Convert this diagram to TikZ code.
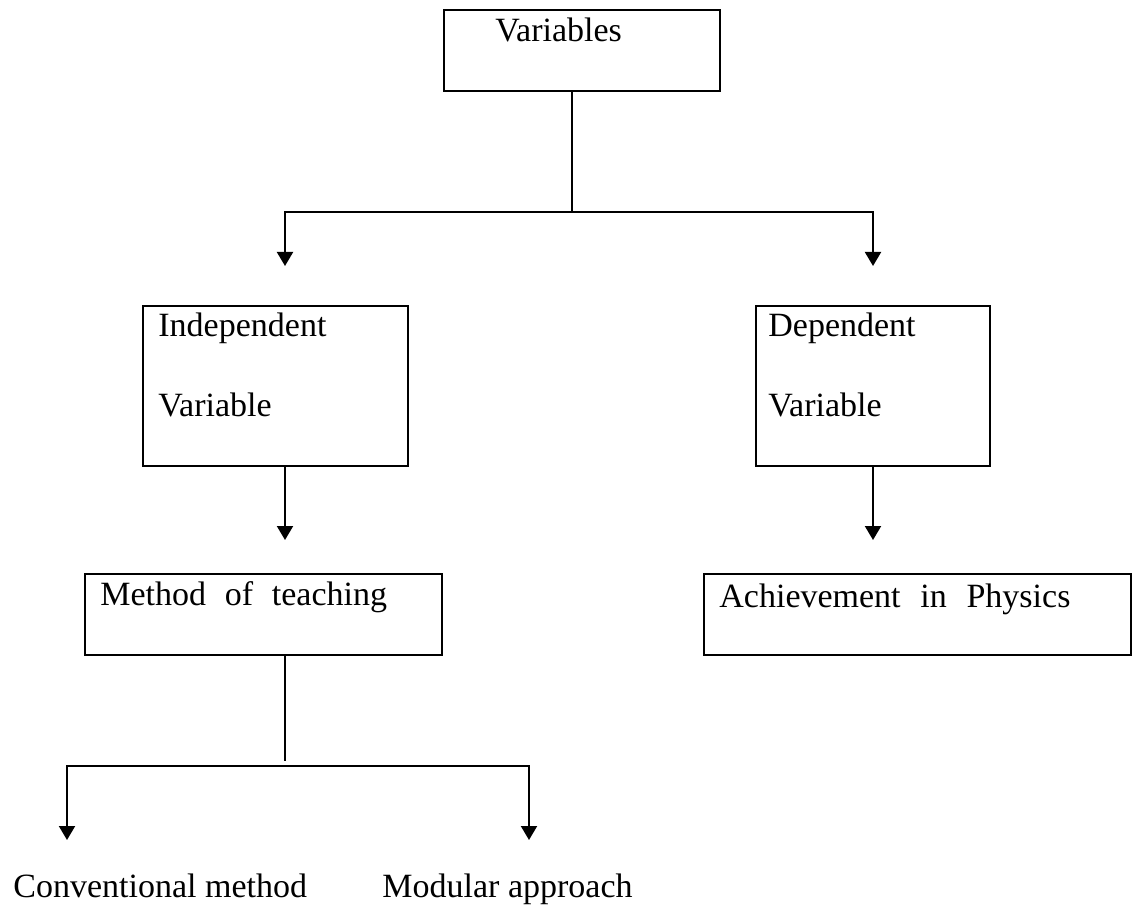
\documentclass[tikz,border=0pt]{standalone}
\usepackage{fontspec}
\setmainfont{Liberation Serif}
\usetikzlibrary{arrows.meta}
\begin{document}
\begin{tikzpicture}[x=0.5pt,y=-0.5pt,
  box/.style={draw=black, line width=1.35pt, inner sep=0pt, rectangle},
  lbl/.style={anchor=base west, inner sep=0pt, font=\fontsize{17}{20}\selectfont},
  conn/.style={draw=black, line width=1pt},
  arr/.style={conn, -{Triangle[length=7pt,width=8pt]}}]
\useasboundingbox (0,0) rectangle (1134,908);
% boxes
\node[box, minimum width=138pt, minimum height=40.5pt] (var) at (582,50.5) {};
\node[box, minimum width=132.5pt, minimum height=80pt] (ind) at (275.5,386) {};
\node[box, minimum width=117pt, minimum height=80pt] (dep) at (873,386) {};
\node[box, minimum width=178.5pt, minimum height=40.5pt] (meth) at (263.5,614.5) {};
\node[box, minimum width=213.5pt, minimum height=40.5pt] (ach) at (917.5,614.5) {};
% labels
\node[lbl] (vart) at (495,42) {Variables};
\node[lbl] (indt1) at (158,337) {Independent};
\node[lbl] (indt2) at (158,417) {Variable};
\node[lbl] (dept1) at (768,337) {Dependent};
\node[lbl] (dept2) at (768,417) {Variable};
\node[lbl] (metht) at (100,605) {Method\hspace{0.55em}of\hspace{0.55em}teaching};
\node[lbl] (acht) at (719,607) {Achievement\hspace{0.58em}in\hspace{0.58em}Physics};
\node[lbl] (conv) at (13,897) {Conventional method};
\node[lbl] (mod) at (382,897) {Modular approach};
% connector points
\coordinate (j1) at (572,212);
\coordinate (a1) at (285,266);
\coordinate (a2) at (873,266);
\coordinate (a3) at (285,540);
\coordinate (a4) at (873,540);
\coordinate (j2) at (285,761);
\coordinate (j3) at (298,766);
\coordinate (a5) at (67,840);
\coordinate (a6) at (529,840);
% connectors
\draw[conn] (var.south -| j1) -- (j1);
\draw[arr] (j1) -| (a1);
\draw[arr] (j1) -| (a2);
\draw[arr] (ind.south -| a3) -- (a3);
\draw[arr] (dep.south -| a4) -- (a4);
\draw[conn] (meth.south -| j2) -- (j2);
\draw[arr] (j3) -| (a5);
\draw[arr] (j3) -| (a6);
\end{tikzpicture}
\end{document}
